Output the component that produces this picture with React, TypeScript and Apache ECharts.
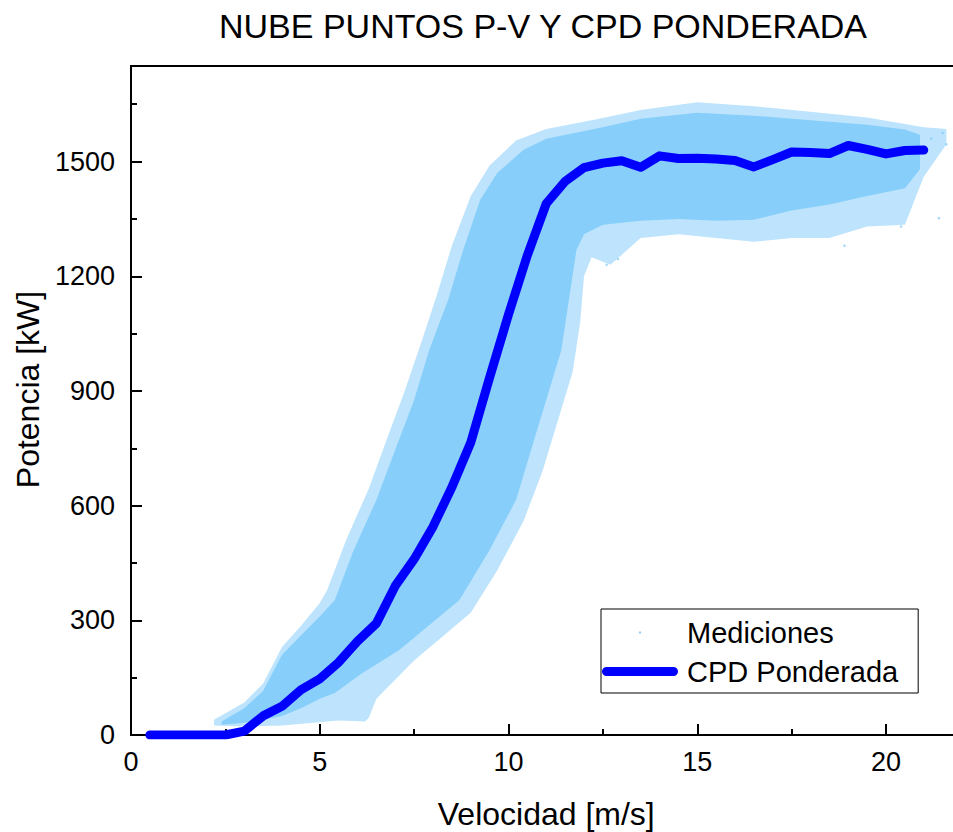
import React, { useEffect, useRef } from "react";
import * as echarts from "echarts";

// CPD Ponderada (weighted power curve)
const cpdSpeed = [0.5, 1, 1.5, 2, 2.5, 3, 3.5, 4, 4.5, 5, 5.5, 6, 6.5, 7, 7.5, 8, 8.5, 9, 9.5, 10, 10.5, 11, 11.5, 12, 12.5, 13, 13.5, 14, 14.5, 15, 15.5, 16, 16.5, 17, 17.5, 18, 18.5, 19, 19.5, 20, 20.5, 21];
const cpdPower = [0, 0, 0, 0, 0, 10, 50, 75, 118, 147, 190, 245, 292, 390, 460, 545, 648, 765, 935, 1100, 1255, 1390, 1448, 1484, 1496, 1502, 1485, 1515, 1508, 1509, 1507, 1503, 1486, 1505, 1525, 1524, 1521, 1542, 1532, 1520, 1529, 1530];

const denseUpperEdge = [
  [2.4, 35], [3.0, 70], [3.5, 115], [4.0, 210], [4.5, 260], [5.0, 310], [5.4, 353], [5.9, 484], [6.5, 615], [7.0, 746],
  [7.5, 876], [7.9, 1007], [8.4, 1138], [8.8, 1269], [9.25, 1400], [9.7, 1470], [10.4, 1531], [11.0, 1560], [12.4, 1588],
  [13.5, 1612], [15, 1628], [16.5, 1620], [18, 1608], [19.5, 1596], [20.5, 1584], [20.9, 1570],
];
const denseLowerEdge = [
  [20.9, 1480], [20.5, 1430], [19.5, 1410], [18.5, 1388], [17.5, 1372], [16.5, 1348], [15.5, 1345], [14.5, 1350], [13.5, 1345],
  [12.5, 1335], [12.0, 1310], [11.8, 1269], [11.6, 1138], [11.4, 1007], [11.0, 876], [10.6, 746], [10.2, 615], [9.5, 484],
  [8.7, 353], [7.1, 222], [6.1, 160], [5.4, 110], [5.0, 95], [4.5, 70], [4.0, 50], [3.5, 40], [3.0, 32], [2.4, 27],
];
// Mediciones: sparse fringe of the cloud
const sparseUpperEdge = [
  [2.2, 40], [3.0, 85], [3.5, 135], [4.0, 230], [4.5, 285], [5.0, 345], [5.2, 380], [5.7, 510], [6.3, 645], [6.8, 780],
  [7.25, 900], [7.7, 1030], [8.1, 1150], [8.5, 1280], [9.0, 1410], [9.5, 1490], [10.2, 1555], [11.0, 1585], [12.4, 1612],
  [13.5, 1635], [15, 1655], [16.5, 1645], [18, 1630], [19.5, 1615], [21, 1590], [21.6, 1585],
];
const sparseLowerEdge = [
  [21.6, 1545], [21, 1460], [20.5, 1335], [19.5, 1330], [18.5, 1300], [17.5, 1300], [16.5, 1290], [15.5, 1300], [14.5, 1310],
  [13.5, 1300], [12.7, 1230], [12.2, 1250], [12.0, 1200], [11.9, 1080], [11.7, 950], [11.3, 820], [10.9, 690], [10.4, 560],
  [9.7, 430], [9.0, 320], [7.5, 195], [6.5, 95], [6.3, 45], [6.2, 35], [5.5, 38], [4.0, 25], [3.0, 22], [2.2, 25],
];
// a few isolated measurements outside the cloud
const outlierSpeed = [21.4, 21.5, 21.6, 12.6, 12.9, 18.9, 20.4, 21.2];
const outlierPower = [1352, 1575, 1545, 1230, 1245, 1280, 1330, 1560];

// axes: min, max, major step, minor step
const xTicks = [0, 22, 5, 2.5];
const yTicks = [0, 1750, 300, 150];

const FONT = "'Liberation Sans', Arial, sans-serif";
const CLOUD = "#87CEFA";
const CURVE = "#0000FF";

const dotIcon = "path://M0,0M80,26M37,12L39,12L39,14L37,14Z";
const lineIcon = "path://M0,0M80,26M4.5,8.5L71.5,8.5A4.5,4.5,0,0,1,71.5,17.5L4.5,17.5A4.5,4.5,0,0,1,4.5,8.5Z";

function polygonSeries(upper: number[][], lower: number[][], opacity: number, z: number) {
  const outline = upper.concat(lower);
  return {
    type: "custom",
    name: "Mediciones",
    coordinateSystem: "cartesian2d",
    data: [[outline[0][0], outline[0][1]]],
    itemStyle: { color: CLOUD },
    z,
    silent: true,
    renderItem: (params: any, api: any) => {
      if (params.dataIndex !== 0) return null;
      const points = outline.map((p) => api.coord(p));
      return {
        type: "polygon",
        shape: { points },
        style: { fill: CLOUD, opacity, stroke: null },
      };
    },
  };
}

export default function App() {
  const ref = useRef<HTMLDivElement>(null);
  useEffect(() => {
    if (!ref.current) return;
    const chart = echarts.init(ref.current, null, { renderer: "svg" });
    const plain = (v: number) => String(v);
    chart.setOption({
      animation: false,
      backgroundColor: "#ffffff",
      textStyle: { fontFamily: FONT, color: "#000" },
      title: {
        text: "NUBE PUNTOS P-V Y CPD PONDERADA",
        left: 214,
        top: 4,
        textStyle: { fontFamily: FONT, fontSize: 34, fontWeight: "normal", color: "#000" },
      },
      grid: {
        left: 131,
        top: 66,
        bottom: 97,
        right: -8.5,
        containLabel: false,
        outerBoundsMode: "none",
        show: true,
        borderColor: "#000",
        borderWidth: 2,
        backgroundColor: "transparent",
      },
      legend: {
        orient: "vertical",
        left: 601,
        top: 609,
        padding: [9, 20, 7, 1],
        itemGap: 10,
        itemWidth: 80,
        itemHeight: 26,
        borderColor: "#000",
        borderWidth: 1,
        backgroundColor: "#fff",
        selectedMode: false,
        textStyle: { fontFamily: FONT, fontSize: 29, color: "#000" },
        data: [
          { name: "Mediciones", icon: dotIcon, itemStyle: { color: CLOUD, borderWidth: 0 } },
          { name: "CPD Ponderada", icon: lineIcon, itemStyle: { color: CURVE, borderWidth: 0 } },
        ],
      },
      xAxis: [
        {
          type: "value",
          position: "bottom",
          min: xTicks[0],
          max: xTicks[1],
          interval: xTicks[2],
          splitLine: { show: false },
          name: "Velocidad [m/s]",
          nameLocation: "middle",
          nameGap: 63,
          nameTextStyle: { fontFamily: FONT, fontSize: 32, color: "#000" },
          axisLine: { show: true, onZero: false, lineStyle: { color: "#000", width: 2 } },
          axisTick: { show: true, inside: true, length: 11, lineStyle: { color: "#000", width: 2 } },
          axisLabel: { fontFamily: FONT, fontSize: 27, color: "#000", margin: 13, showMaxLabel: false, formatter: plain },
        },
        {
          type: "value",
          position: "bottom",
          min: xTicks[0],
          max: xTicks[1],
          interval: xTicks[3],
          splitLine: { show: false },
          axisLine: { show: false, onZero: false },
          axisTick: { show: true, inside: true, length: 6, lineStyle: { color: "#000", width: 2 } },
          axisLabel: { show: false },
        },
      ],
      yAxis: [
        {
          type: "value",
          position: "left",
          min: yTicks[0],
          max: yTicks[1],
          interval: yTicks[2],
          splitLine: { show: false },
          name: "Potencia [kW]",
          nameLocation: "middle",
          nameGap: 84,
          nameRotate: 90,
          nameTextStyle: { fontFamily: FONT, fontSize: 32, color: "#000", padding: [0, 0, 0, 22] },
          axisLine: { show: true, onZero: false, lineStyle: { color: "#000", width: 2 } },
          axisTick: { show: true, inside: true, length: 11, lineStyle: { color: "#000", width: 2 } },
          axisLabel: { fontFamily: FONT, fontSize: 27, color: "#000", margin: 16, showMaxLabel: false, formatter: plain },
        },
        {
          type: "value",
          position: "left",
          min: yTicks[0],
          max: yTicks[1],
          interval: yTicks[3],
          splitLine: { show: false },
          axisLine: { show: false, onZero: false },
          axisTick: { show: true, inside: true, length: 6, lineStyle: { color: "#000", width: 2 } },
          axisLabel: { show: false },
        },
      ],
      series: [
        polygonSeries(sparseUpperEdge, sparseLowerEdge, 0.55, 2),
        polygonSeries(denseUpperEdge, denseLowerEdge, 1, 3),
        {
          type: "scatter",
          name: "Mediciones",
          data: outlierSpeed.map((v, i) => [v, outlierPower[i]]),
          symbol: "circle",
          symbolSize: 2.5,
          itemStyle: { color: CLOUD },
          silent: true,
          z: 3,
        },
        {
          type: "line",
          name: "CPD Ponderada",
          data: cpdSpeed.map((v, i) => [v, cpdPower[i]]),
          symbol: "none",
          lineStyle: { color: CURVE, width: 9, cap: "round", join: "round" },
          itemStyle: { color: CURVE },
          z: 5,
          silent: true,
        },
      ],
    });
    return () => chart.dispose();
  }, []);
  return (
    <div
      ref={ref}
      style={{ position: "absolute", left: 0, top: 0, width: 953, height: 832, overflow: "hidden" }}
    />
  );
}
